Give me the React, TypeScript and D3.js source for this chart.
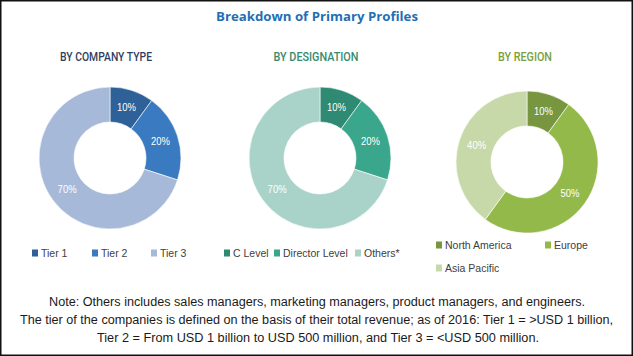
import React from "react";
import * as d3 from "d3";

const title = "Breakdown of Primary Profiles";

const companyLabels = ["Tier 1", "Tier 2", "Tier 3"];
const companyValues = [10, 20, 70];
const companyColors = ["#2d6197", "#3a7ac0", "#a7b9d8"];

const designationLabels = ["C Level", "Director Level", "Others*"];
const designationValues = [10, 20, 70];
const designationColors = ["#2e8a73", "#3aa68c", "#a9d3c8"];

const regionLabels = ["North America", "Europe", "Asia Pacific"];
const regionValues = [10, 50, 40];
const regionColors = ["#77963f", "#94b94b", "#c7d9a9"];

const noteLines = [
  "Note: Others includes sales managers, marketing managers, product managers, and engineers.",
  "The tier of the companies is defined on the basis of their total revenue; as of 2016: Tier 1 = >USD 1 billion,",
  "Tier 2 = From USD 1 billion to USD 500 million, and Tier 3 = <USD 500 million.",
];

type Panel = {
  heading: string;
  headingColor: string;
  headingWidth: number;
  cx: number;
  cy: number;
  labels: string[];
  values: number[];
  colors: string[];
  legend: { x: number; y: number }[];
};

const panels: Panel[] = [
  {
    heading: "BY COMPANY TYPE",
    headingColor: "#2f3f5f",
    headingWidth: 92,
    cx: 110,
    cy: 158,
    labels: companyLabels,
    values: companyValues,
    colors: companyColors,
    legend: [
      { x: 32, y: 253 },
      { x: 92, y: 253 },
      { x: 151, y: 253 },
    ],
  },
  {
    heading: "BY DESIGNATION",
    headingColor: "#3a8a6e",
    headingWidth: 85,
    cx: 320,
    cy: 158,
    labels: designationLabels,
    values: designationValues,
    colors: designationColors,
    legend: [
      { x: 224, y: 253 },
      { x: 274, y: 253 },
      { x: 355, y: 253 },
    ],
  },
  {
    heading: "BY REGION",
    headingColor: "#7aa03a",
    headingWidth: 54,
    cx: 527,
    cy: 162,
    labels: regionLabels,
    values: regionValues,
    colors: regionColors,
    legend: [
      { x: 436, y: 245 },
      { x: 545, y: 245 },
      { x: 436, y: 268 },
    ],
  },
];

const headingCenters = [106, 316, 525];

export default function App() {
  const pie = d3
    .pie<number>()
    .sort(null)
    .value((d) => d);
  const arc = d3.arc<d3.PieArcDatum<number>>().innerRadius(36).outerRadius(71);
  const labelArc = d3.arc<d3.PieArcDatum<number>>().innerRadius(53).outerRadius(53);

  return (
    <svg
      width={633}
      height={356}
      style={{ position: "absolute", left: 0, top: 0, background: "#fff" }}
    >
      <rect x={0.75} y={0.75} width={631.5} height={354.5} fill="#fff" stroke="#111" strokeWidth={1.5} />
      <text
        x={317}
        y={21}
        textAnchor="middle"
        fontFamily="'Open Sans', 'Liberation Sans', sans-serif"
        fontWeight={700}
        fontSize={12.5}
        fill="#1f6fb5"
        textLength={202}
        lengthAdjust="spacingAndGlyphs"
      >
        {title}
      </text>
      {panels.map((p, pi) => {
        const arcs = pie(p.values);
        return (
          <g key={p.heading}>
            <text
              x={headingCenters[pi]}
              y={61}
              textAnchor="middle"
              fontFamily="'Roboto', 'Liberation Sans', sans-serif"
              fontWeight={500}
              fontSize={12}
              fill={p.headingColor}
              textLength={p.headingWidth}
              lengthAdjust="spacingAndGlyphs"
            >
              {p.heading}
            </text>
            <g transform={`translate(${p.cx},${p.cy})`}>
              {arcs.map((a, i) => (
                <path key={i} d={arc(a) || ""} fill={p.colors[i]} stroke="#fff" strokeWidth={0.6} />
              ))}
              {arcs.map((a, i) => {
                const [lx, ly] = labelArc.centroid(a);
                return (
                  <text
                    key={"l" + i}
                    x={lx}
                    y={ly}
                    dy="0.35em"
                    textAnchor="middle"
                    fontFamily="'Liberation Sans', sans-serif"
                    fontSize={11}
                    fill="#fff"
                    textLength={19}
                    lengthAdjust="spacingAndGlyphs"
                  >
                    {p.values[i]}%
                  </text>
                );
              })}
            </g>
            {p.labels.map((lab, i) => (
              <g key={lab} transform={`translate(${p.legend[i].x},${p.legend[i].y})`}>
                <rect x={0} y={-3.5} width={6} height={7} fill={p.colors[i]} />
                <text
                  x={9}
                  y={0}
                  dy="0.36em"
                  fontFamily="'Liberation Sans', sans-serif"
                  fontSize={10.5}
                  fill="#404040"
                >
                  {lab}
                </text>
              </g>
            ))}
          </g>
        );
      })}
      {noteLines.map((line, i) => {
        const spans = [
          { x0: 49, x1: 585 },
          { x0: 20, x1: 613 },
          { x0: 97, x1: 539 },
        ][i];
        return (
          <text
            key={i}
            x={(spans.x0 + spans.x1) / 2}
            y={302 + i * 18}
            dy="0.36em"
            textAnchor="middle"
            fontFamily="'Liberation Sans', sans-serif"
            fontSize={12}
            fill="#1a1a1a"
            textLength={spans.x1 - spans.x0}
            lengthAdjust="spacingAndGlyphs"
          >
            {line}
          </text>
        );
      })}
    </svg>
  );
}
